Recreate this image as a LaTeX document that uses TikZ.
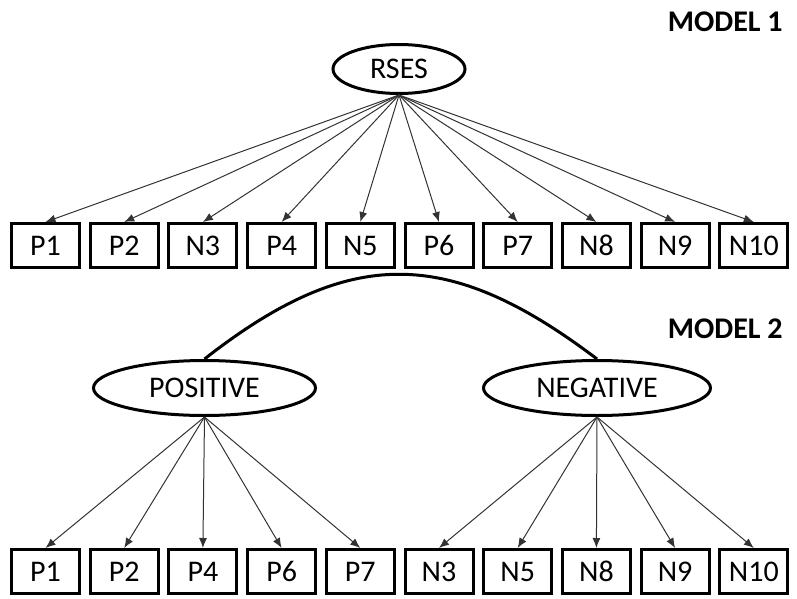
\documentclass[tikz,border=0pt]{standalone}
\usepackage{fontspec}
\setmainfont{Carlito}
\usetikzlibrary{shapes.geometric,arrows.meta}
\begin{document}
\begin{tikzpicture}[x=0.5pt,y=-0.5pt,
  item/.style={draw,line width=1.5pt,minimum width=34pt,minimum height=22pt,inner sep=0pt,font=\fontsize{15}{15}\selectfont},
  latent/.style={draw,ellipse,line width=1.5pt,inner sep=0pt,font=\fontsize{15}{15}\selectfont},
  load/.style={-{Latex[length=5pt,width=4pt]},line width=0.5pt,draw=black!80},
  title/.style={anchor=base east,inner sep=0pt,font=\fontsize{15}{15}\selectfont\bfseries}]
\useasboundingbox (0,0) rectangle (797,599);
\node[title] (m1) at (783,32) {MODEL 1};
\node[title] (m2) at (783,338) {MODEL 2};
% Model 1
\node[latent,minimum width=66pt,minimum height=24.5pt] (rses) at (399,69) {RSES};
\foreach \n/\t [count=\i from 0] in {a1/P1,a2/P2,a3/N3,a4/P4,a5/N5,a6/P6,a7/P7,a8/N8,a9/N9,a10/N10}{
  \node[item] (\n) at ({45.5+78.7*\i},245.5) {\t};
  \draw[load] (rses.south) -- (\n.north);
}
% Model 2
\node[latent,minimum width=111pt,minimum height=27.5pt] (pos) at (204.5,388) {POSITIVE};
\node[latent,minimum width=113.5pt,minimum height=27.5pt] (neg) at (597,388) {NEGATIVE};
\foreach \n/\t [count=\i from 0] in {b1/P1,b2/P2,b3/P4,b4/P6,b5/P7}{
  \node[item] (\n) at ({45.5+78.7*\i},571.5) {\t};
  \draw[load] (pos.south) -- (\n.north);
}
\foreach \n/\t [count=\i from 5] in {c1/N3,c2/N5,c3/N8,c4/N9,c5/N10}{
  \node[item] (\n) at ({45.5+78.7*\i},571.5) {\t};
  \draw[load] (neg.south) -- (\n.north);
}
\draw[line width=1.5pt] (pos.north) .. controls (349,246) and (448,246) .. (neg.north);
\end{tikzpicture}
\end{document}
